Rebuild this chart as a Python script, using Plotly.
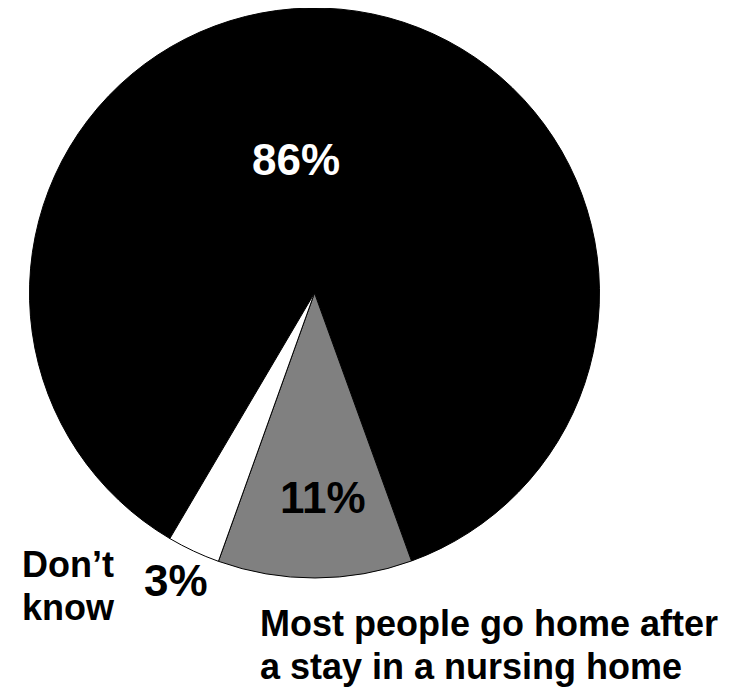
import plotly.graph_objects as go

# Data
categories = ["Most people do not go home", "Most people go home after a stay in a nursing home", "Don't know"]
values = [86, 11, 3]
colors = ["#000000", "#808080", "#ffffff"]
label_lines = [[], ["Most people go home after", "a stay in a nursing home"], ["Don’t", "know"]]

# The page body adds an 8px margin, so the figure is drawn 8px in from the top-left.
OFF = 8
W, H = 754 - OFF, 688 - OFF
cx, cy, R = 314.5 - OFF, 293 - OFF, 285

fig = go.Figure(go.Pie(
    labels=categories,
    values=values,
    sort=False,
    direction="clockwise",
    rotation=210.5,
    marker=dict(colors=colors, line=dict(color="#000000", width=1)),
    textinfo="none",
    hoverinfo="label+percent",
    showlegend=False,
    domain=dict(x=[max(0, (cx - R) / W), min(1, (cx + R) / W)],
                y=[max(0, (H - cy - R) / H), min(1, (H - cy + R) / H)]),
))

FAM = "Liberation Sans, Arial, sans-serif"
font_pct = dict(family=FAM, size=44, weight="bold")
font_lbl = dict(family=FAM, size=36, weight="bold", color="#000000")

def px(x, y):
    # screenshot pixel -> paper coords
    return (x - OFF) / W, 1 - (y - OFF) / H

ann = []
# percentage labels (screenshot centre positions)
pct_pos = [(296, 159, "#ffffff"), (323, 497, "#000000"), (176, 580, "#000000")]
for v, (x, y, c) in zip(values, pct_pos):
    ax, ay = px(x, y)
    ann.append(dict(x=ax, y=ay, xref="paper", yref="paper", text=f"{v}%", showarrow=False,
                    xanchor="center", yanchor="middle", font=dict(font_pct, color=c)))

# category labels, one annotation per line (left x, cap-centre y)
line_pos = {1: [(258, 623), (258, 666)], 2: [(20, 564), (20, 607)]}
for idx, positions in line_pos.items():
    for txt, (x, y) in zip(label_lines[idx], positions):
        ax, ay = px(x, y)
        ann.append(dict(x=ax, y=ay, xref="paper", yref="paper", text=txt, showarrow=False,
                        xanchor="left", yanchor="middle", align="left", font=font_lbl))

fig.update_layout(
    width=W, height=H,
    margin=dict(l=0, r=0, t=0, b=0),
    paper_bgcolor="#ffffff",
    plot_bgcolor="#ffffff",
    annotations=ann,
)

fig.write_html("out.html")
